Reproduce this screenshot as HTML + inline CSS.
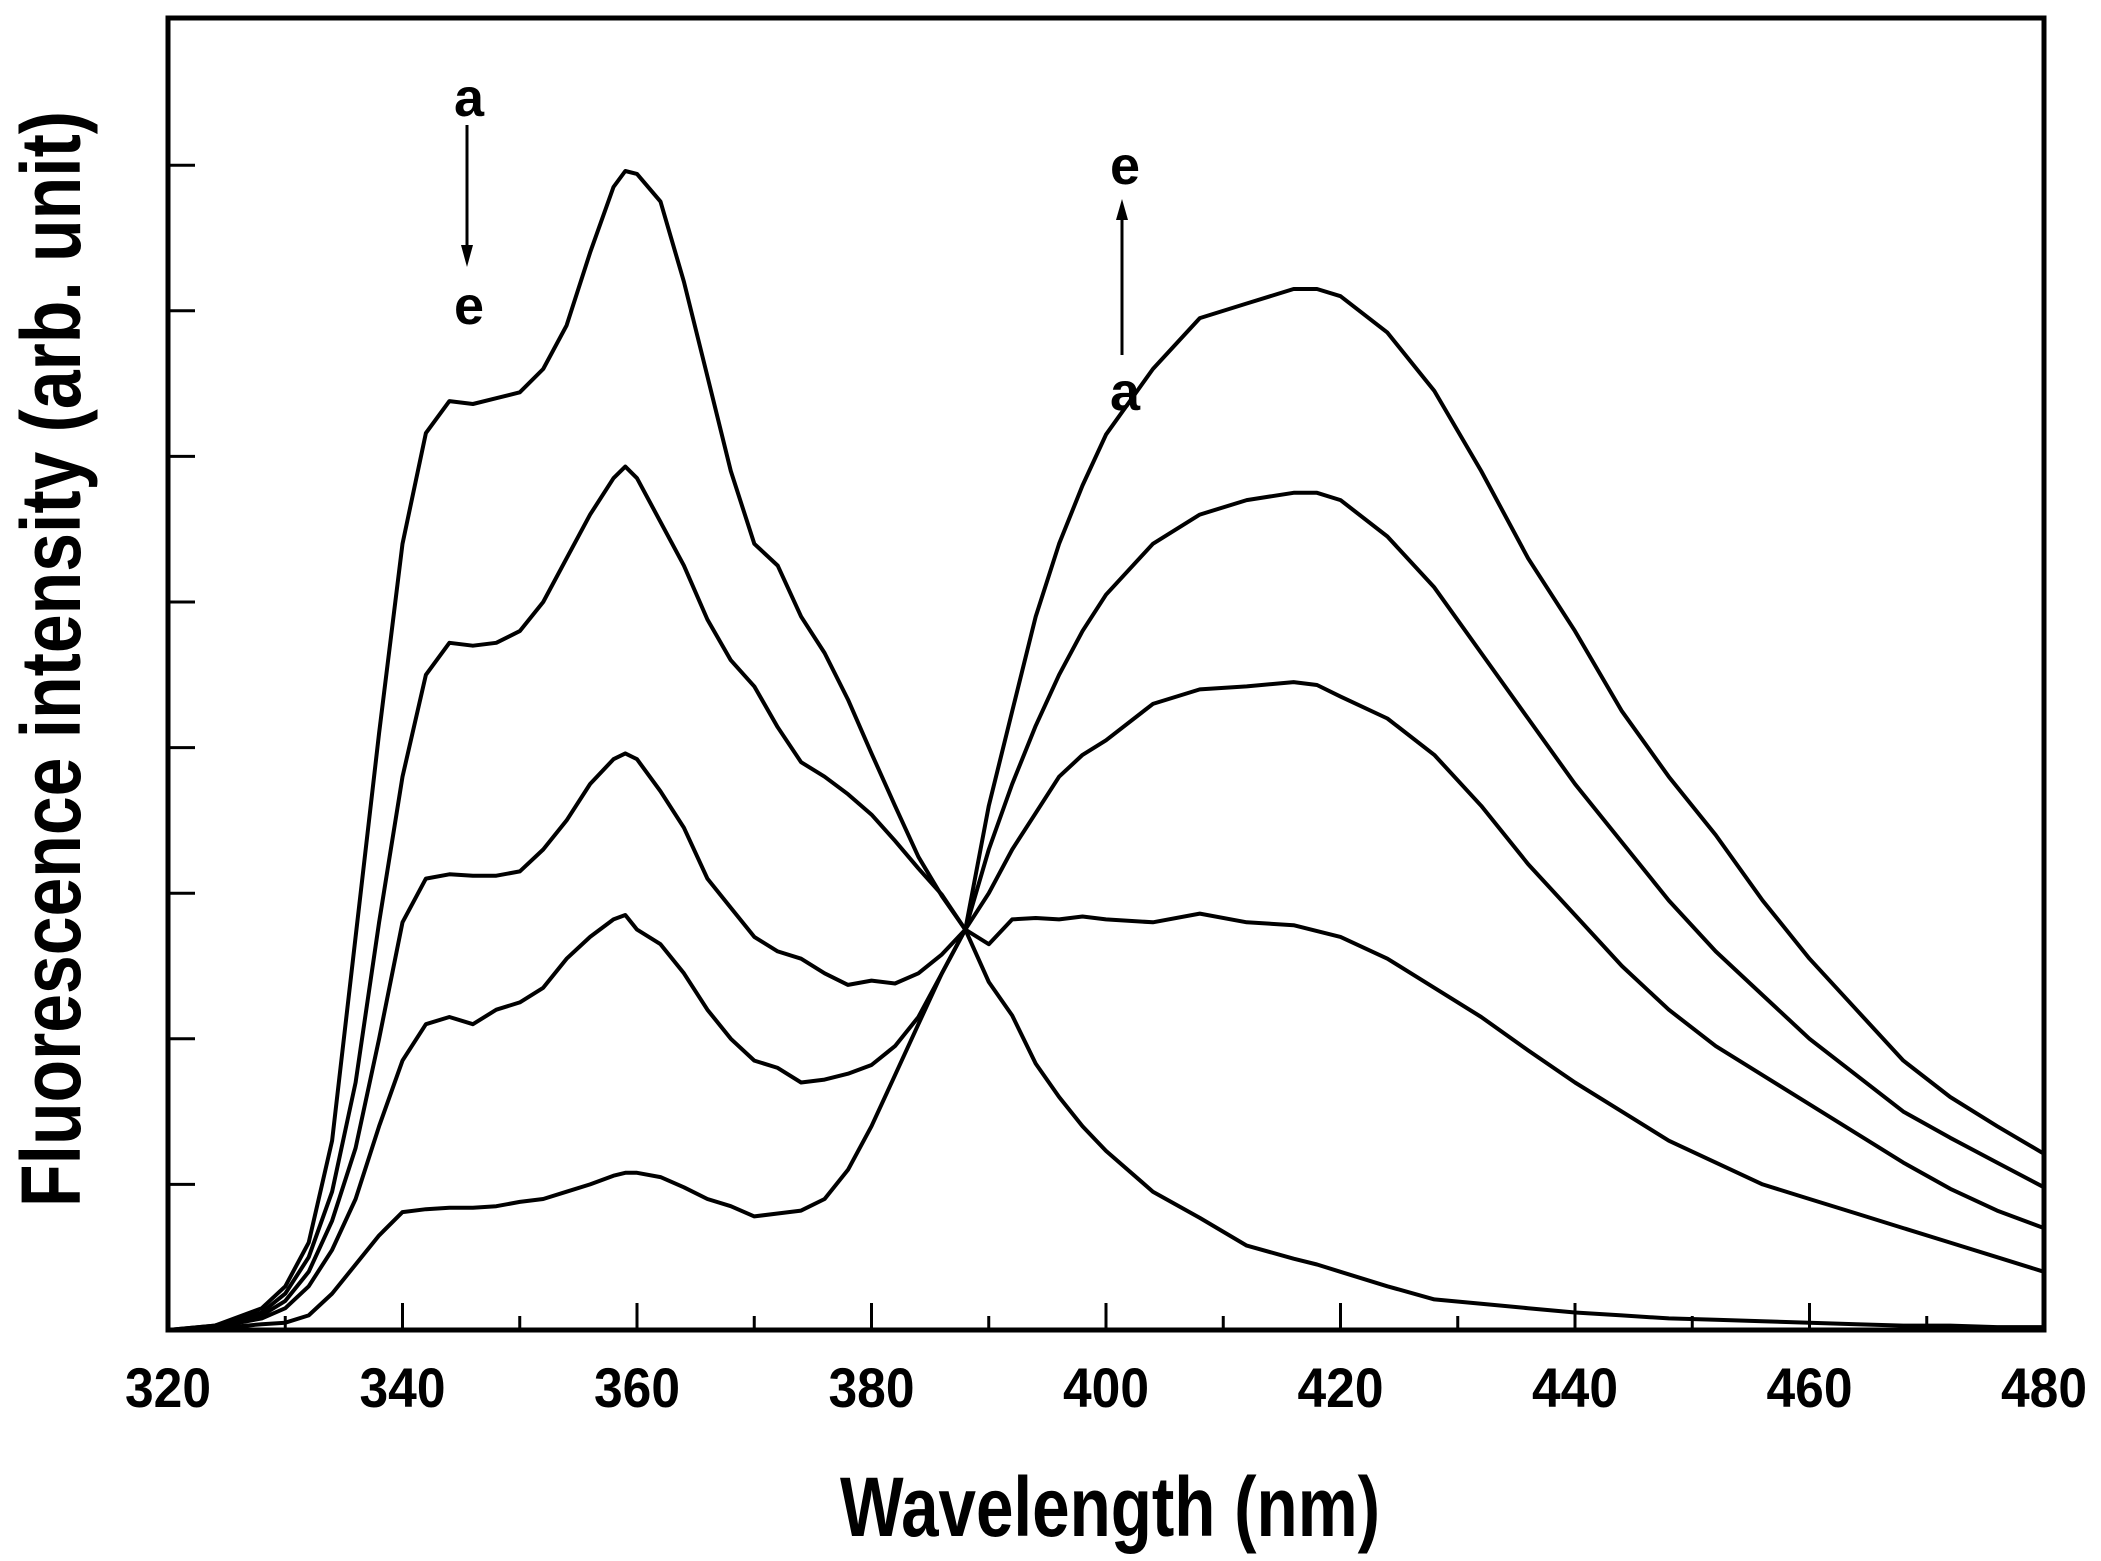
<!DOCTYPE html>
<html><head><meta charset="utf-8"><style>
html,body{margin:0;padding:0;background:#fff;}
svg{display:block;font-family:"Liberation Sans",sans-serif;font-weight:bold;}
</style></head><body>
<svg id="chart" width="2101" height="1561" viewBox="0 0 2101 1561" xmlns="http://www.w3.org/2000/svg">
<rect x="0" y="0" width="2101" height="1561" fill="#fff"/>
<g id="curves"></g>
<g id="axes"></g>
<text x="0" y="0" transform="translate(80,659) rotate(-90)" text-anchor="middle" font-size="84" textLength="1096" lengthAdjust="spacingAndGlyphs">Fluorescence intensity  (arb.  unit)</text>
<text x="1110" y="1536" text-anchor="middle" font-size="84" textLength="540" lengthAdjust="spacingAndGlyphs">Wavelength  (nm)</text>
<g>
<text x="469" y="116" text-anchor="middle" font-size="54">a</text>
<line x1="467" y1="125" x2="467" y2="250" stroke="#000" stroke-width="3"/>
<polygon points="461,245 473,245 467,267" fill="#000"/>
<text x="469" y="324" text-anchor="middle" font-size="54">e</text>
</g>
<g>
<text x="1125" y="184" text-anchor="middle" font-size="54">e</text>
<line x1="1122" y1="215" x2="1122" y2="355" stroke="#000" stroke-width="3"/>
<polygon points="1116,220 1128,220 1122,199" fill="#000"/>
<text x="1125" y="410" text-anchor="middle" font-size="54">a</text>
</g>
</svg>
<script>
const wavelengths = [320,324,328,330,332,334,336,338,340,342,344,346,348,350,352,354,356,358,359,360,362,364,366,368,370,372,374,376,378,380,382,384,386,388,390,392,394,396,398,400,404,408,412,416,418,420,424,428,432,436,440,444,448,452,456,460,464,468,472,476,480];
const seriesA = [0,0.03,0.15,0.3,0.6,1.3,2.7,4.1,5.4,6.16,6.38,6.36,6.4,6.44,6.6,6.9,7.4,7.85,7.96,7.94,7.75,7.2,6.55,5.9,5.4,5.25,4.9,4.65,4.33,3.96,3.6,3.25,2.98,2.75,2.39,2.16,1.83,1.6,1.4,1.23,0.95,0.77,0.58,0.49,0.45,0.4,0.3,0.21,0.18,0.15,0.12,0.1,0.08,0.07,0.06,0.05,0.04,0.03,0.03,0.02,0.02];
const seriesB = [0,0.03,0.12,0.25,0.5,0.95,1.7,2.8,3.8,4.5,4.72,4.7,4.72,4.8,5.0,5.3,5.6,5.85,5.93,5.85,5.55,5.25,4.88,4.6,4.42,4.14,3.9,3.8,3.68,3.54,3.36,3.17,2.99,2.75,3.3,3.75,4.15,4.5,4.8,5.05,5.4,5.6,5.7,5.75,5.75,5.7,5.45,5.1,4.65,4.2,3.75,3.35,2.95,2.6,2.3,2.0,1.75,1.5,1.32,1.15,0.98];
const seriesC = [0,0.02,0.1,0.2,0.4,0.75,1.25,2.0,2.8,3.1,3.13,3.12,3.12,3.15,3.3,3.5,3.75,3.92,3.96,3.92,3.7,3.45,3.1,2.9,2.7,2.6,2.55,2.45,2.37,2.4,2.38,2.45,2.58,2.75,3.0,3.3,3.55,3.8,3.95,4.05,4.3,4.4,4.42,4.45,4.43,4.35,4.2,3.95,3.6,3.2,2.85,2.5,2.2,1.95,1.75,1.55,1.35,1.15,0.97,0.82,0.7];
const seriesD = [0,0.02,0.08,0.15,0.3,0.55,0.9,1.4,1.85,2.1,2.15,2.1,2.2,2.25,2.35,2.55,2.7,2.82,2.85,2.75,2.65,2.45,2.2,2.0,1.85,1.8,1.7,1.72,1.76,1.82,1.95,2.15,2.45,2.75,2.65,2.82,2.83,2.82,2.84,2.82,2.8,2.86,2.8,2.78,2.74,2.7,2.55,2.35,2.15,1.92,1.7,1.5,1.3,1.15,1.0,0.9,0.8,0.7,0.6,0.5,0.4];
const seriesE = [0,0.01,0.04,0.05,0.1,0.25,0.45,0.65,0.81,0.83,0.84,0.84,0.85,0.88,0.9,0.95,1.0,1.06,1.08,1.08,1.05,0.98,0.9,0.85,0.78,0.8,0.82,0.9,1.1,1.4,1.75,2.1,2.45,2.75,3.6,4.25,4.9,5.4,5.8,6.15,6.6,6.95,7.05,7.15,7.15,7.1,6.85,6.45,5.9,5.3,4.8,4.25,3.8,3.4,2.95,2.55,2.2,1.85,1.6,1.4,1.21];
const xTickLabels = ["320","340","360","380","400","420","440","460","480"];
const yTickCount = 8;

const NS="http://www.w3.org/2000/svg";
const L=168,R=2044,T=18,B=1330;
const xs=w=>L+(w-320)*(R-L)/160;
const ys=v=>B-v*145.6;
const cg=document.getElementById('curves');
const ax=document.getElementById('axes');
const allSeries=[seriesA,seriesB,seriesC,seriesD,seriesE];
const names=['curve-a','curve-b','curve-c','curve-d','curve-e'];
allSeries.forEach((s,i)=>{
  const p=document.createElementNS(NS,'path');
  p.setAttribute('d',s.map((v,j)=>(j?'L':'M')+xs(wavelengths[j]).toFixed(1)+','+ys(v).toFixed(1)).join(''));
  p.setAttribute('fill','none');p.setAttribute('stroke','#000');p.setAttribute('stroke-width','4');p.setAttribute('stroke-linejoin','round');
  
  
  cg.appendChild(p);
});
const frame=document.createElementNS(NS,'rect');
frame.setAttribute('x',L);frame.setAttribute('y',T);frame.setAttribute('width',R-L);frame.setAttribute('height',B-T);
frame.setAttribute('fill','none');frame.setAttribute('stroke','#000');frame.setAttribute('stroke-width','5');


ax.appendChild(frame);
for(let w=330;w<480;w+=10){
  const major=(w%20===0);
  const t=document.createElementNS(NS,'line');
  t.setAttribute('x1',xs(w));t.setAttribute('x2',xs(w));t.setAttribute('y1',B);t.setAttribute('y2',B-(major?27:14));
  t.setAttribute('stroke','#000');t.setAttribute('stroke-width','3');
  
  
  ax.appendChild(t);
}
xTickLabels.forEach(lab=>{
  const t=document.createElementNS(NS,'text');
  t.setAttribute('x',xs(+lab));t.setAttribute('y',1407);t.setAttribute('text-anchor','middle');
  t.setAttribute('font-size','56');t.setAttribute('textLength','86');t.setAttribute('lengthAdjust','spacingAndGlyphs');
  t.textContent=lab;
  
  
  ax.appendChild(t);
});
for(let k=1;k<=yTickCount;k++){
  const t=document.createElementNS(NS,'line');
  t.setAttribute('x1',L);t.setAttribute('x2',L+27);t.setAttribute('y1',ys(k));t.setAttribute('y2',ys(k));
  t.setAttribute('stroke','#000');t.setAttribute('stroke-width','3');
  
  
  ax.appendChild(t);
}
</script>
</body></html>
